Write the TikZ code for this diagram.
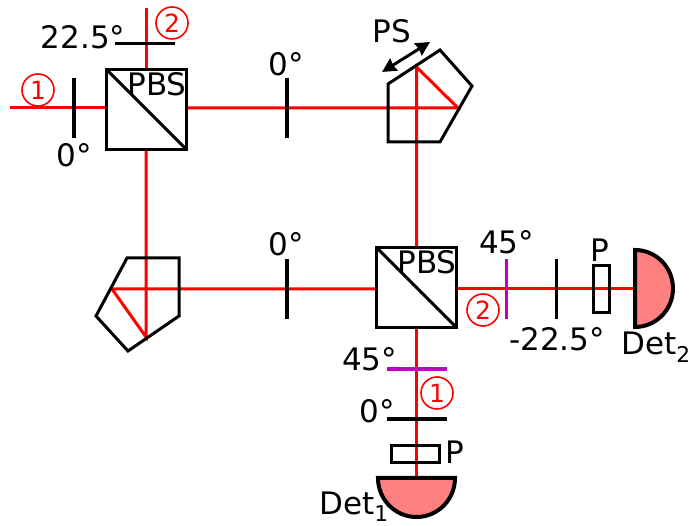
\documentclass[tikz,border=0pt]{standalone}
\usepackage{fontspec}
\usetikzlibrary{arrows.meta}
\setmainfont{DejaVu Sans}
\definecolor{beamred}{RGB}{255,0,0}
\definecolor{platemag}{RGB}{192,0,192}
\definecolor{detpink}{RGB}{255,128,128}
\tikzset{
	beam/.style={draw=beamred,line width=3pt},
	optic/.style={draw=black,line width=3pt},
	cube/.style={draw=black,line width=3pt,minimum size=80pt,inner sep=0pt},
	platev/.style={fill=#1,inner sep=0pt,minimum width=3.5pt,minimum height=60pt},
	plateh/.style={fill=#1,inner sep=0pt,minimum width=60pt,minimum height=3.5pt},
	polar/.style={draw=black,line width=3.5pt,inner sep=0pt},
	det/.style={draw=black,line width=4pt,fill=detpink},
	txt/.style={font=\fontsize{31}{37}\selectfont,inner sep=0pt},
	num/.style={draw=beamred,circle,line width=1.6pt,minimum size=32pt,inner sep=0pt,text=beamred,font=\fontsize{25}{30}\selectfont},
}
\begin{document}
\begin{tikzpicture}[x=1pt,y=-1pt]
			\useasboundingbox (0,0) rectangle (689,526);
			\coordinate (inA) at (10,108);
			\coordinate (inB) at (146,8);
			\coordinate (foldA) at (458,108);
			\coordinate (topA) at (416.5,67);
			\coordinate (foldB) at (112,289);
			\coordinate (topB) at (146,337);
			\coordinate (endA) at (416.5,478);
			\coordinate (endB) at (635,289);
			\node[cube] (pbsA) at (146.5,109.5) {};
			\node[cube] (pbsB) at (416.5,287.5) {};
			\draw[beam] (inA)--(pbsA.west |- inA);
			\draw[beam] (inB)--(pbsA.north -| inB);
			\draw[beam] (pbsA.east |- foldA)--(foldA)--(topA)--(pbsB.north -| topA);
			\draw[beam] (pbsA.south -| topB)--(topB)--(foldB)--(pbsB.west |- foldB);
			\draw[beam] (pbsB.east |- endB)--(endB);
			\draw[beam] (pbsB.south -| endA)--(endA);
			\draw[optic,shorten <=1.5pt,shorten >=1.5pt] (pbsA.north west)--(pbsA.south east);
			\draw[optic,shorten <=1.5pt,shorten >=1.5pt] (pbsB.north west)--(pbsB.south east);
			\draw[optic] (388,84)--(440,50)--(472,86)--(440,142)--(388,142)--cycle;
			\draw[optic] (127,258)--(179,258)--(179,316)--(128,351)--(96,316)--cycle;
			\draw[line width=3pt,black,{Stealth[length=14pt,width=14pt,inset=1pt]}-{Stealth[length=14pt,width=14pt,inset=1pt]}] (382,72)--(430,42);
			\node[platev=black] (hwpA) at (74,108.5) {};
			\node[plateh=black] (hwpB) at (145,43.5) {};
			\node[platev=black] (hwpC) at (287,108.5) {};
			\node[platev=black] (hwpD) at (287,289) {};
			\node[platev=platemag] (hwpE) at (506.5,289) {};
			\node[platev=black] (hwpF) at (556.5,289) {};
			\node[plateh=platemag] (hwpG) at (416.5,369) {};
			\node[plateh=black] (hwpH) at (416.5,419) {};
			\node[polar,minimum width=16pt,minimum height=47pt] (polA) at (601.5,289) {};
			\node[polar,minimum width=48pt,minimum height=17pt] (polB) at (415.5,454) {};
			\draw[det] (635,250) arc[start angle=-90,end angle=90,x radius=38,y radius=38.5]--cycle;
			\draw[det] (378,478) arc[start angle=180,end angle=0,x radius=38.5,y radius=39]--cycle;
			\node[txt] (lblA) at (157,84) {PBS};
			\node[txt] (lblB) at (427,262) {PBS};
			\node[txt] (lblC) at (83,37) {22.5°};
			\node[txt] (lblD) at (74.5,155) {0°};
			\node[txt] (lblE) at (286,64) {0°};
			\node[txt] (lblF) at (392,31) {PS};
			\node[txt] (lblG) at (286,244) {0°};
			\node[txt] (lblH) at (506.5,242) {45°};
			\node[txt] (lblI) at (600,250) {P};
			\node[txt] (lblJ) at (557,339) {-22.5°};
			\node[txt] (lblK) at (656,347) {Det\textsubscript{2}};
			\node[txt] (lblL) at (369.5,359) {45°};
			\node[txt] (lblM) at (377.5,411) {0°};
			\node[txt] (lblN) at (455,452) {P};
			\node[txt] (lblO) at (354,507) {Det\textsubscript{1}};
			\node[num] (numA) at (38,90) {1};
			\node[num] (numB) at (172,23) {2};
			\node[num] (numC) at (483,310) {2};
			\node[num] (numD) at (437,393) {1};
			\end{tikzpicture}
\end{document}
